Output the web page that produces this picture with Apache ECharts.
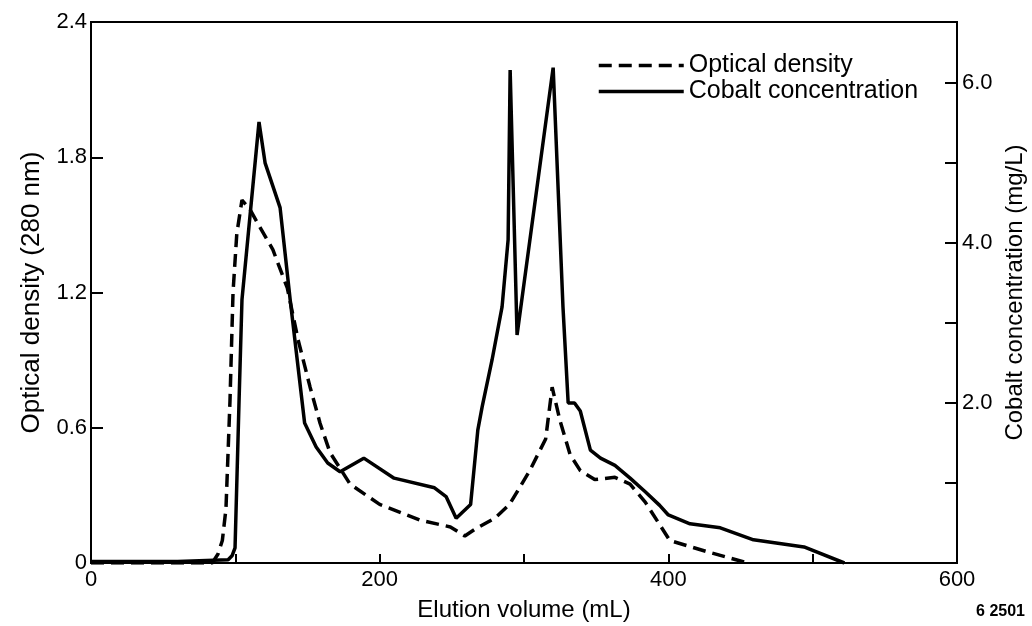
<!DOCTYPE html>
<html>
<head>
<meta charset="utf-8">
<script src="https://cdn.jsdelivr.net/npm/echarts@6/dist/echarts.min.js"></script>
<style>
  html, body { margin: 0; padding: 0; background: #fff; }
  #chart { width: 1032px; height: 626px; }
</style>
</head>
<body>
<div id="chart"></div>
<script>
// elution volume (mL) / optical density at 280 nm
var odX = [0, 60, 84, 88, 91, 93.5, 96.3, 98.4, 101, 104.6, 110, 117, 126, 136, 143.5, 151.8, 158.7, 165.6, 179.5, 200, 228, 249, 259, 266, 280, 290, 304, 315, 319.5, 325, 332, 339, 349, 363, 373.5, 384, 394, 401, 427, 455];
var odY = [0, 0, 0, 0.04, 0.1, 0.24, 0.72, 1.2, 1.46, 1.61, 1.57, 1.49, 1.39, 1.22, 0.99, 0.78, 0.62, 0.49, 0.35, 0.26, 0.19, 0.16, 0.12, 0.15, 0.2, 0.26, 0.41, 0.55, 0.78, 0.63, 0.48, 0.41, 0.37, 0.38, 0.35, 0.27, 0.17, 0.1, 0.05, 0];

// elution volume (mL) / cobalt (mg/L)
var coX = [0, 60, 95, 97.7, 99.8, 102.6, 104.6, 116.4, 120.6, 131, 138, 148, 156, 164, 172.6, 189, 210, 238, 246, 253, 263, 268, 271, 277.9, 284.8, 289, 290.4, 295.2, 320.2, 327, 330.6, 335, 339, 346, 353, 363, 373.5, 384, 394, 400, 415, 436, 459, 494, 522];
var coY = [0.02, 0.02, 0.04, 0.09, 0.19, 2.04, 3.29, 5.51, 5.0, 4.44, 3.29, 1.75, 1.45, 1.25, 1.14, 1.31, 1.06, 0.94, 0.83, 0.56, 0.73, 1.66, 1.95, 2.54, 3.2, 4.04, 6.16, 2.85, 6.19, 3.2, 2.0, 2.0, 1.9, 1.41, 1.31, 1.22, 1.06, 0.89, 0.72, 0.6, 0.49, 0.44, 0.29, 0.2, 0];

var xTicks = [0, 200, 400, 600];
var odTicks = [0, 0.6, 1.2, 1.8, 2.4];
var coTicks = [2, 4, 6];

function zip(xs, ys) { return xs.map(function (x, i) { return [x, ys[i]]; }); }

var font = 'Liberation Sans, Arial, sans-serif';
var chart = echarts.init(document.getElementById('chart'));

chart.setOption({
  animation: false,
  textStyle: { fontFamily: font, color: '#000' },
  grid: {
    left: 91, right: 75, top: 22, bottom: 63,
    outerBoundsMode: 'none',
    show: true, borderColor: '#000', borderWidth: 2
  },
  legend: {
    orient: 'vertical',
    left: 597, top: 53, padding: 0,
    itemWidth: 85, itemHeight: 6, itemGap: 1,
    itemStyle: { opacity: 0 },
    lineStyle: { width: 3.5 },
    textStyle: { fontSize: 25, color: '#000', fontFamily: font },
    data: ['Optical density', 'Cobalt concentration']
  },
  xAxis: {
    type: 'value', min: 0, max: 600, interval: 100,
    name: 'Elution volume (mL)', nameLocation: 'middle', nameGap: 35,
    nameTextStyle: { fontSize: 24, color: '#000' },
    axisLine: { lineStyle: { color: '#000', width: 2 } },
    axisTick: { inside: true, length: 9, lineStyle: { color: '#000', width: 2 } },
    axisLabel: {
      fontSize: 22, color: '#000', margin: 6,
      formatter: function (v) { return xTicks.indexOf(v) >= 0 ? String(v) : ''; }
    },
    splitLine: { show: false }
  },
  yAxis: [{
    type: 'value', min: 0, max: 2.4, interval: 0.6, position: 'left',
    name: 'Optical density (280 nm)', nameLocation: 'middle', nameGap: 46,
    nameTextStyle: { fontSize: 26, color: '#000' },
    axisLine: { show: true, lineStyle: { color: '#000', width: 2 } },
    axisTick: { show: true, inside: true, length: 12, lineStyle: { color: '#000', width: 2 } },
    axisLabel: {
      fontSize: 22, color: '#000', margin: 4,
      formatter: function (v) {
        var hit = odTicks.filter(function (t) { return Math.abs(t - v) < 1e-6; })[0];
        return hit === undefined ? '' : (hit === 0 ? '0' : hit.toFixed(1));
      }
    },
    splitLine: { show: false }
  }, {
    type: 'value', min: 0, max: 6.76, interval: 1, position: 'right',
    name: 'Cobalt concentration (mg/L)', nameLocation: 'middle', nameGap: 41,
    nameTextStyle: { fontSize: 24, color: '#000' },
    axisLine: { show: true, lineStyle: { color: '#000', width: 2 } },
    axisTick: { show: true, inside: true, length: 12, lineStyle: { color: '#000', width: 2 } },
    axisLabel: {
      fontSize: 22, color: '#000', margin: 5,
      formatter: function (v) { return coTicks.indexOf(v) >= 0 ? v.toFixed(1) : ''; }
    },
    splitLine: { show: false }
  }],
  series: [{
    name: 'Optical density', type: 'line', yAxisIndex: 0,
    data: zip(odX, odY), showSymbol: false, symbol: 'none',
    lineStyle: { color: '#000', width: 3.5, type: [13, 7] },
    itemStyle: { color: '#000' }
  }, {
    name: 'Cobalt concentration', type: 'line', yAxisIndex: 1,
    data: zip(coX, coY), showSymbol: false, symbol: 'none',
    lineStyle: { color: '#000', width: 3.5 },
    itemStyle: { color: '#000' }
  }],
  graphic: [{
    type: 'text', right: 7, top: 604,
    style: { text: '6 2501', font: 'bold 16px ' + font, fill: '#000' }
  }]
});
</script>
</body>
</html>
